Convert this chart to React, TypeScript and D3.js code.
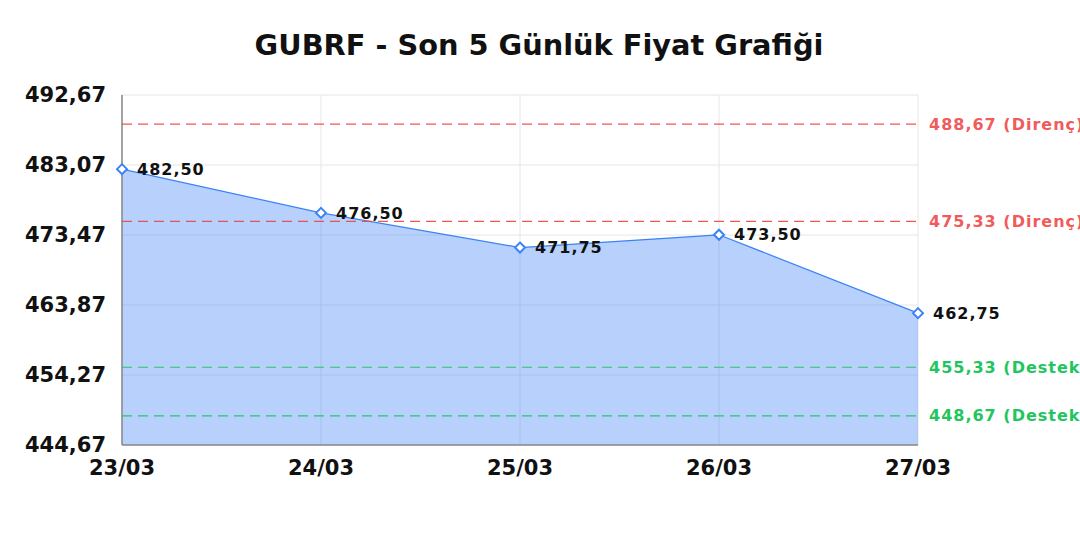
import React from "react";
import * as d3 from "d3";

const dates = ["23/03", "24/03", "25/03", "26/03", "27/03"];
const prices = [482.5, 476.5, 471.75, 473.5, 462.75];
const yTicks = [444.67, 454.27, 463.87, 473.47, 483.07, 492.67];
const resistance = [488.67, 475.33];
const support = [455.33, 448.67];
const title = "GUBRF - Son 5 Günlük Fiyat Grafiği";

const W = 1080, H = 540;
const M = { left: 122, right: 918, top: 95, bottom: 445 };
const FONT = "'DejaVu Sans', sans-serif";
const fmt = (v: number) => v.toFixed(2).replace(".", ",");

export default function App() {
  const x = d3.scalePoint<string>().domain(dates).range([M.left, M.right]);
  const y = d3.scaleLinear().domain([444.67, 492.67]).range([M.bottom, M.top]);
  const pts = dates.map((d, i) => ({ d, v: prices[i] }));
  const area = d3.area<{ d: string; v: number }>()
    .x((p) => x(p.d)!)
    .y0(M.bottom)
    .y1((p) => y(p.v));
  const line = d3.line<{ d: string; v: number }>()
    .x((p) => x(p.d)!)
    .y((p) => y(p.v));
  const diamond = (cx: number, cy: number, r: number) =>
    `M${cx},${cy - r}L${cx + r},${cy}L${cx},${cy + r}L${cx - r},${cy}Z`;

  return (
    <svg width={W} height={H} style={{ position: "absolute", left: 0, top: 0, background: "#fff" }} fontFamily={FONT}>
      <text x={539} y={55} textAnchor="middle" fontSize={28.8} fontWeight="bold" fill="#111">{title}</text>
      {/* grid */}
      {yTicks.map((t) => (
        <line key={"gy" + t} x1={M.left} x2={M.right} y1={y(t)} y2={y(t)} stroke="#e6e6e6" strokeWidth={1} />
      ))}
      {dates.map((d) => (
        <line key={"gx" + d} x1={x(d)} x2={x(d)} y1={M.top} y2={M.bottom} stroke="#e6e6e6" strokeWidth={1} />
      ))}
      <path d={area(pts)!} fill="rgba(59,130,246,0.37)" />
      <path d={line(pts)!} fill="none" stroke="#3b82f6" strokeWidth={1.2} />
      {/* axes */}
      <line x1={M.left} x2={M.left} y1={M.top} y2={M.bottom} stroke="#888" strokeWidth={1.5} />
      <line x1={M.left} x2={M.right} y1={M.bottom} y2={M.bottom} stroke="#888" strokeWidth={1.5} />
      {/* reference lines */}
      {resistance.map((r) => (
        <g key={"r" + r}>
          <line x1={M.left} x2={M.right} y1={y(r)} y2={y(r)} stroke="#ef4444" strokeOpacity={0.9} strokeWidth={1.2} strokeDasharray="10,6" />
          <text x={929} y={y(r)} dy="0.35em" fontSize={16} fontWeight="bold" letterSpacing={1} fill="#ef4444" fillOpacity={0.9}>{fmt(r) + " (Direnç)"}</text>
        </g>
      ))}
      {support.map((s) => (
        <g key={"s" + s}>
          <line x1={M.left} x2={M.right} y1={y(s)} y2={y(s)} stroke="#22c55e" strokeOpacity={0.95} strokeWidth={1.2} strokeDasharray="10,6" />
          <text x={929} y={y(s)} dy="0.35em" fontSize={16} fontWeight="bold" letterSpacing={1} fill="#22c55e">{fmt(s) + " (Destek)"}</text>
        </g>
      ))}
      {/* markers & labels */}
      {pts.map((p) => (
        <g key={"p" + p.d}>
          <path d={diamond(x(p.d)!, y(p.v), 5)} fill="#fff" stroke="#3b82f6" strokeWidth={2} />
          <text x={x(p.d)! + 15} y={y(p.v)} dy="0.35em" fontSize={16} fontWeight="bold" letterSpacing={1} fill="#111">{fmt(p.v)}</text>
        </g>
      ))}
      {/* tick labels */}
      {yTicks.map((t) => (
        <text key={"yt" + t} x={106} y={y(t)} dy="0.35em" textAnchor="end" fontSize={21} fontWeight="bold" fill="#111">{fmt(t)}</text>
      ))}
      {dates.map((d) => (
        <text key={"xt" + d} x={x(d)} y={475} textAnchor="middle" fontSize={21} fontWeight="bold" fill="#111">{d}</text>
      ))}
    </svg>
  );
}
